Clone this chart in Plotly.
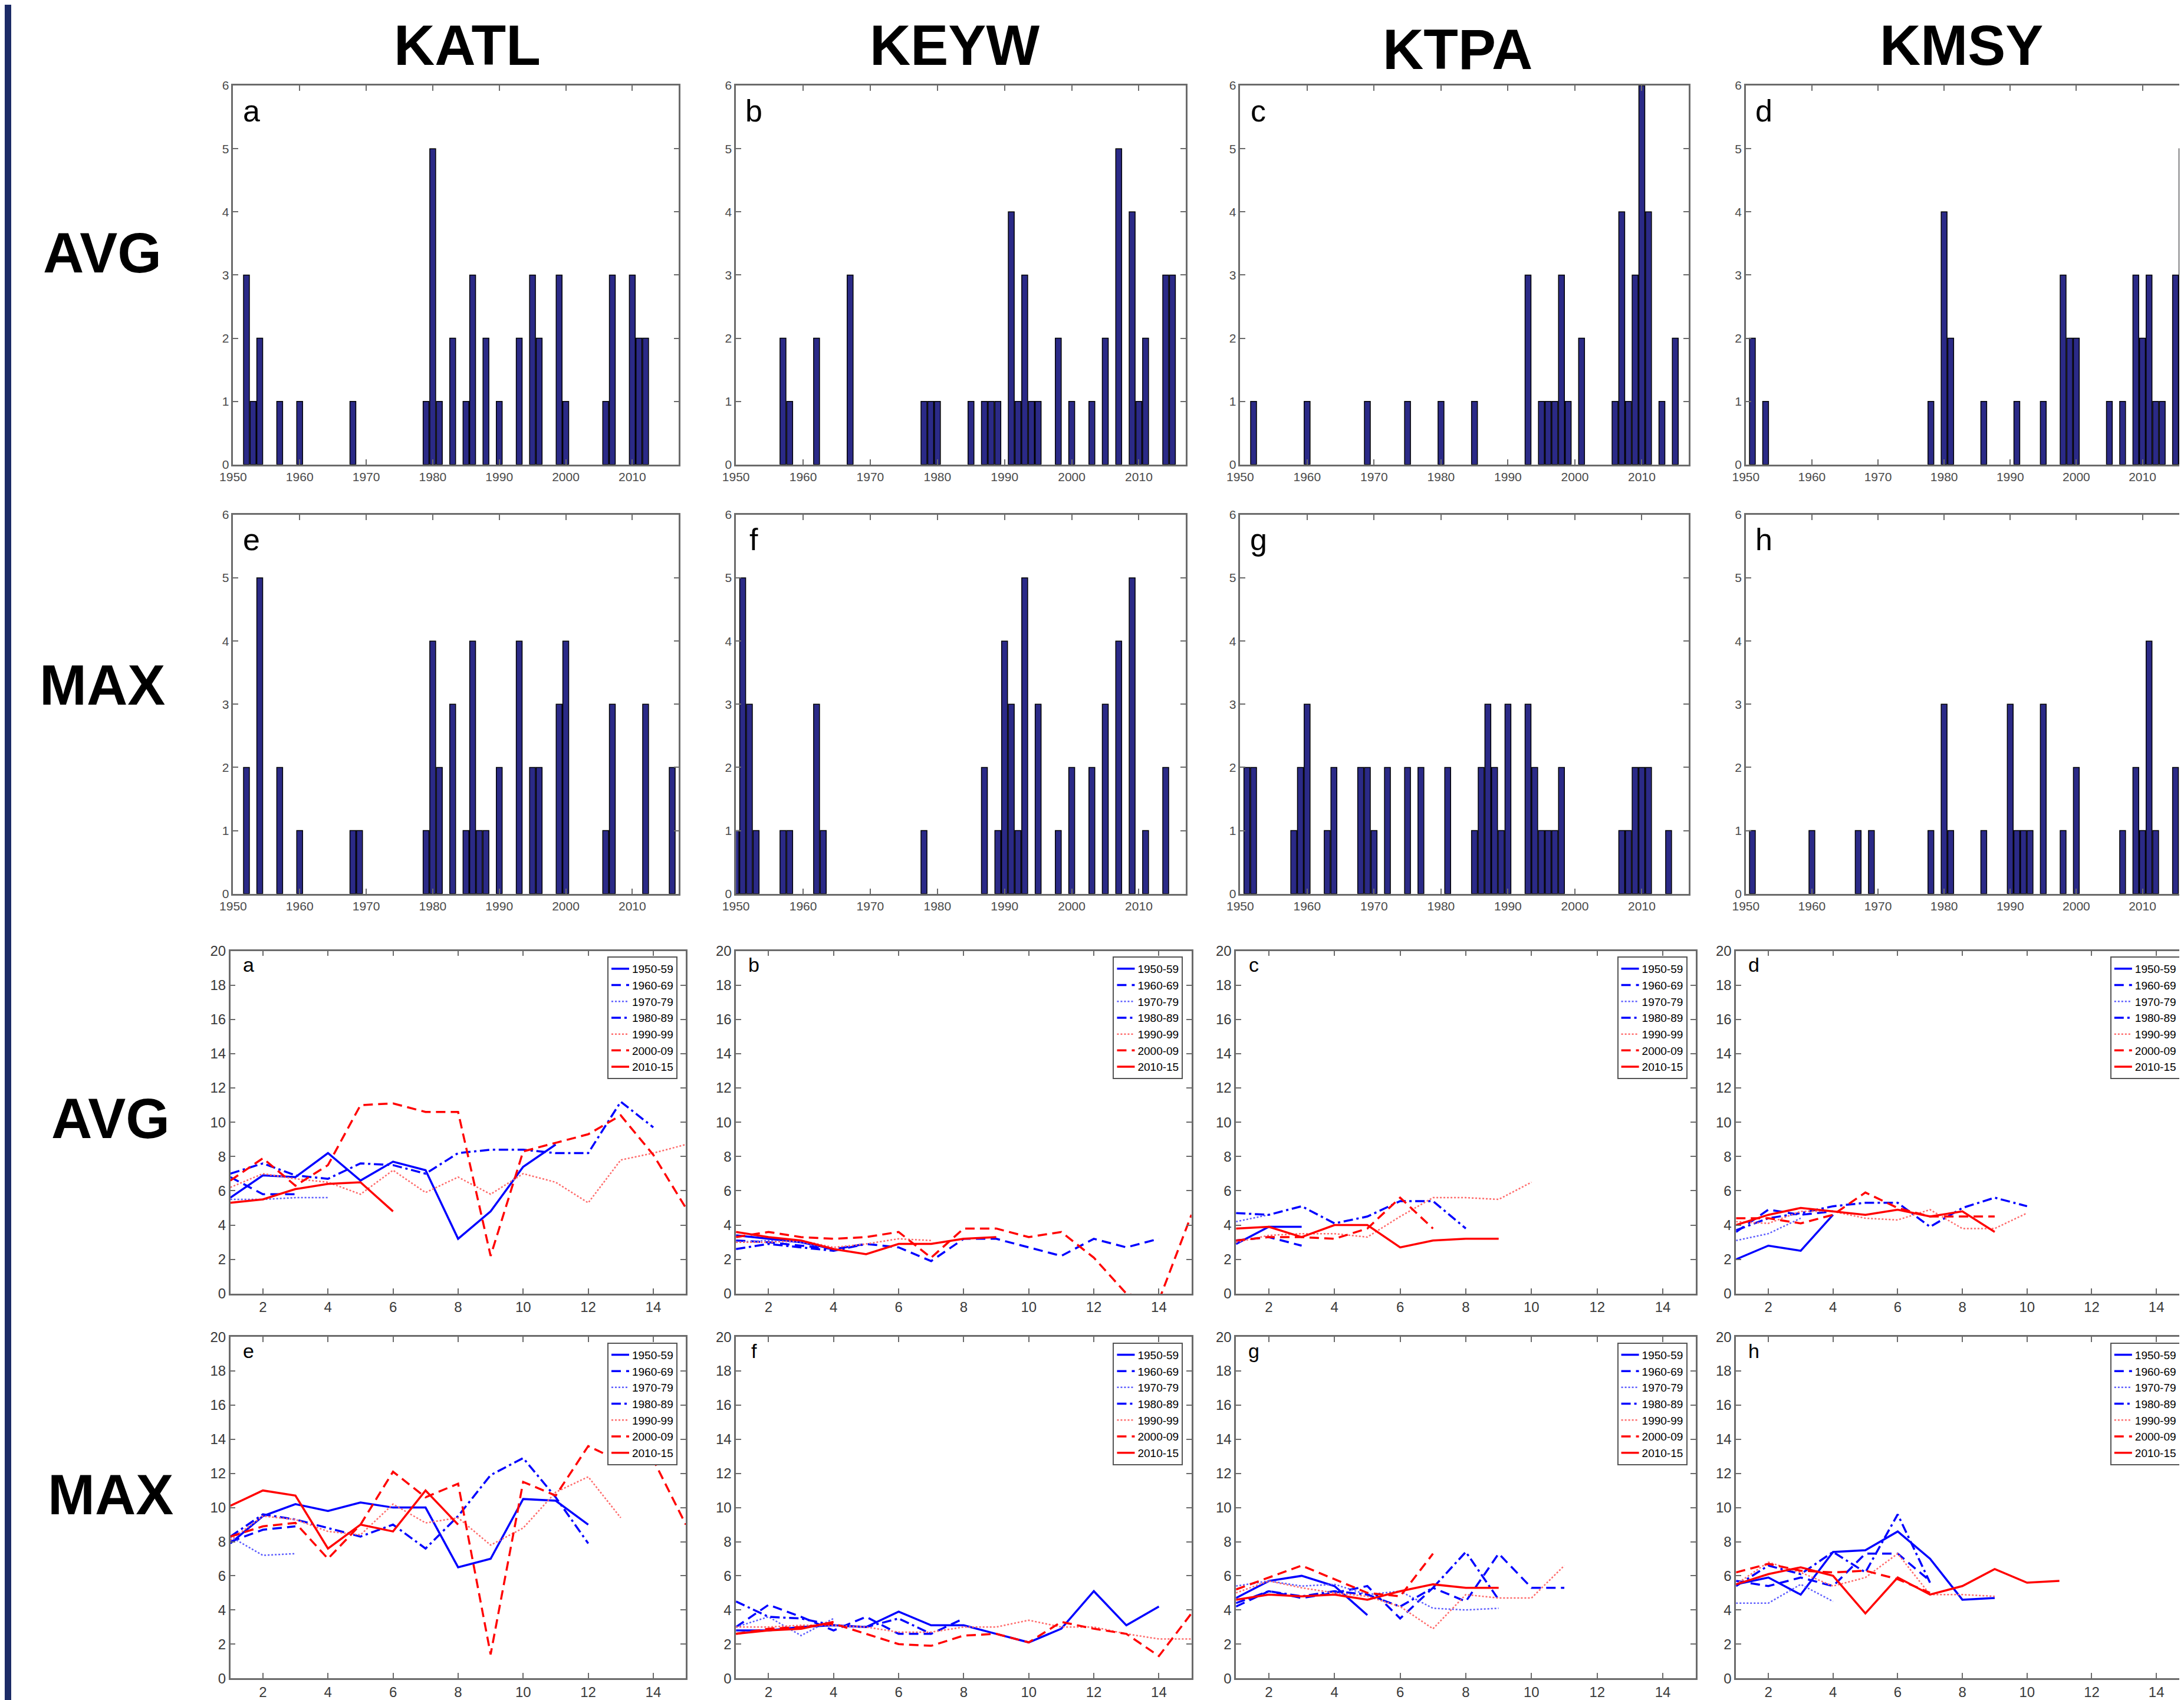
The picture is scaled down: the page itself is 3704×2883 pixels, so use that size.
import plotly.graph_objects as go

W, H = 3704, 2883
SX, SY = 1568.0, 1220.0  # reference layout measured on the shrunk picture

stations = ["KATL", "KEYW", "KTPA", "KMSY"]
decades = ["1950-59", "1960-69", "1970-79", "1980-89", "1990-99", "2000-09", "2010-15"]
bar_letters = ["a", "b", "c", "d", "e", "f", "g", "h"]
line_letters = ["a", "b", "c", "d", "e", "f", "g", "h"]

# ---------------- bar data (count per year) ----------------
katl_avg_years = [1952, 1953, 1954, 1957, 1960, 1968, 1979, 1980, 1981, 1983, 1985, 1986, 1988, 1990,
                  1993, 1995, 1996, 1999, 2000, 2006, 2007, 2010, 2011, 2012]
katl_avg_counts = [3, 1, 2, 1, 1, 1, 1, 5, 1, 2, 1, 3, 2, 1, 2, 3, 2, 3, 1, 1, 3, 3, 2, 2]

keyw_avg_years = [1957, 1958, 1962, 1967, 1978, 1979, 1980, 1985, 1987, 1988, 1989, 1991, 1992, 1993,
                  1994, 1995, 1998, 2000, 2003, 2005, 2007, 2009, 2010, 2011, 2014, 2015]
keyw_avg_counts = [2, 1, 2, 3, 1, 1, 1, 1, 1, 1, 1, 4, 1, 3, 1, 1, 2, 1, 1, 2, 5, 4, 1, 2, 3, 3]

ktpa_avg_years = [1952, 1960, 1969, 1975, 1980, 1985, 1993, 1995, 1996, 1997, 1998, 1999, 2001, 2006,
                  2007, 2008, 2009, 2010, 2011, 2013, 2015]
ktpa_avg_counts = [1, 1, 1, 1, 1, 1, 3, 1, 1, 1, 3, 1, 2, 1, 4, 1, 3, 6, 4, 1, 2]

kmsy_avg_years = [1951, 1953, 1978, 1980, 1981, 1986, 1991, 1995, 1998, 1999, 2000, 2005, 2007, 2009,
                  2010, 2011, 2012, 2013, 2015, 2016]
kmsy_avg_counts = [2, 1, 1, 4, 2, 1, 1, 1, 3, 2, 2, 1, 1, 3, 2, 3, 1, 1, 3, 5]

katl_max_years = [1952, 1954, 1957, 1960, 1968, 1969, 1979, 1980, 1981, 1983, 1985, 1986, 1987, 1988,
                  1990, 1993, 1995, 1996, 1999, 2000, 2006, 2007, 2012, 2016]
katl_max_counts = [2, 5, 2, 1, 1, 1, 1, 4, 2, 3, 1, 4, 1, 1, 2, 4, 2, 2, 3, 4, 1, 3, 3, 2]

keyw_max_years = [1950, 1951, 1952, 1953, 1957, 1958, 1962, 1963, 1978, 1987, 1989, 1990, 1991, 1992,
                  1993, 1995, 1998, 2000, 2003, 2005, 2007, 2009, 2011, 2014]
keyw_max_counts = [1, 5, 3, 1, 1, 1, 3, 1, 1, 2, 1, 4, 3, 1, 5, 3, 1, 2, 2, 3, 4, 5, 1, 2]

ktpa_max_years = [1951, 1952, 1958, 1959, 1960, 1963, 1964, 1968, 1969, 1970, 1972, 1975, 1977, 1981,
                  1985, 1986, 1987, 1988, 1989, 1990, 1993, 1994, 1995, 1996, 1997, 1998, 2007, 2008,
                  2009, 2010, 2011, 2014]
ktpa_max_counts = [2, 2, 1, 2, 3, 1, 2, 2, 2, 1, 2, 2, 2, 2, 1, 2, 3, 2, 1, 3, 3, 2, 1, 1, 1, 2, 1, 1,
                   2, 2, 2, 1]

kmsy_max_years = [1951, 1960, 1967, 1969, 1978, 1980, 1981, 1986, 1990, 1991, 1992, 1993, 1995, 1998,
                  2000, 2007, 2009, 2010, 2011, 2012, 2015]
kmsy_max_counts = [1, 1, 1, 1, 1, 3, 1, 1, 3, 1, 1, 1, 3, 1, 2, 1, 2, 1, 4, 1, 2]

bar_panels = [
    (katl_avg_years, katl_avg_counts), (keyw_avg_years, keyw_avg_counts),
    (ktpa_avg_years, ktpa_avg_counts), (kmsy_avg_years, kmsy_avg_counts),
    (katl_max_years, katl_max_counts), (keyw_max_years, keyw_max_counts),
    (ktpa_max_years, ktpa_max_counts), (kmsy_max_years, kmsy_max_counts),
]

# ---------------- line data (value per event index, one list per decade) ----------------
katl_avg_lines = [
    [5.6, 6.9, 6.8, 8.2, 6.6, 7.7, 7.2, 3.2, 4.8, 7.4, 8.7],
    [6.8, 5.8, 5.8],
    [5.5, 5.5, 5.6, 5.6],
    [7.0, 7.6, 6.9, 6.7, 7.6, 7.5, 7.0, 8.2, 8.4, 8.4, 8.2, 8.2, 11.2, 9.7],
    [6.2, 7.0, 6.7, 6.5, 5.8, 7.2, 5.9, 6.8, 5.8, 7.0, 6.5, 5.3, 7.8, 8.2, 8.7],
    [6.6, 7.9, 6.3, 7.5, 11.0, 11.1, 10.6, 10.6, 2.2, 8.3, 8.8, 9.3, 10.4, 8.1, 5.0],
    [5.3, 5.5, 6.1, 6.4, 6.5, 4.8],
]
keyw_avg_lines = [
    [3.4, 3.2, 3.0, 2.6],
    [3.1, 3.0, 2.8, 2.6, 2.9, 2.7, 1.9, 3.2, 3.2, 2.7, 2.2, 3.2, 2.7, 3.2],
    [3.0, 3.1, 3.0, 2.6],
    [2.6, 2.9, 2.7, 2.5, 2.9],
    [3.0, 3.0, 3.1, 2.7, 2.9, 3.2, 3.1],
    [3.3, 3.6, 3.3, 3.2, 3.3, 3.6, 2.1, 3.8, 3.8, 3.3, 3.6, 2.1, 0.0, -0.4, 4.6],
    [3.6, 3.3, 3.1, 2.6, 2.3, 2.9, 2.9, 3.2, 3.3],
]
ktpa_avg_lines = [
    [2.9, 3.9, 3.9],
    [3.1, 3.3, 2.8],
    [4.2, 4.6],
    [4.7, 4.6, 5.1, 4.1, 4.5, 5.4, 5.4, 3.8],
    [3.0, 3.4, 3.5, 3.5, 3.3, 4.5, 5.6, 5.6, 5.5, 6.5],
    [3.1, 3.3, 3.3, 3.2, 3.8, 5.6, 3.8],
    [3.8, 3.9, 3.3, 4.0, 4.0, 2.7, 3.1, 3.2, 3.2],
]
kmsy_avg_lines = [
    [2.0, 2.8, 2.5, 4.6],
    [3.6, 4.9, 4.6, 4.8],
    [3.1, 3.5, 4.4],
    [3.7, 4.4, 4.7, 5.1, 5.3, 5.3, 3.9, 5.0, 5.6, 5.1],
    [4.2, 4.1, 4.8, 4.8, 4.4, 4.3, 4.9, 3.8, 3.8, 4.7],
    [4.4, 4.4, 4.1, 4.6, 5.9, 5.0, 4.5, 4.5, 4.5],
    [4.0, 4.6, 5.0, 4.8, 4.6, 4.9, 4.5, 4.8, 3.6],
]
katl_max_lines = [
    [7.9, 9.5, 10.2, 9.8, 10.3, 10.0, 10.0, 6.5, 7.0, 10.5, 10.4, 9.0],
    [8.0, 8.7, 8.9],
    [8.3, 7.2, 7.3],
    [8.3, 9.6, 9.3, 8.8, 8.3, 9.0, 7.6, 9.5, 11.9, 12.9, 10.6, 7.9],
    [8.1, 9.5, 9.3, 8.6, 8.4, 10.2, 9.1, 9.4, 7.8, 8.8, 10.9, 11.8, 9.4],
    [8.3, 8.9, 9.1, 7.0, 9.0, 12.1, 10.6, 11.4, 1.4, 11.5, 10.7, 13.6, 12.7, 12.8, 9.0],
    [10.1, 11.0, 10.7, 7.6, 9.0, 8.6, 11.0, 9.0],
]
keyw_max_lines = [
    [2.8, 2.8, 3.0, 3.1, 3.0, 3.9, 3.1, 3.1, 2.6, 2.1, 2.9, 5.1, 3.1, 4.2],
    [3.0, 4.3, 3.6, 2.8, 3.6, 2.6, 2.6, 3.5],
    [3.0, 3.6, 2.5, 3.5],
    [4.5, 3.6, 3.5, 3.1, 3.0, 3.5, 2.6],
    [3.0, 3.0, 3.1, 3.1, 3.0, 2.7, 2.7, 3.0, 3.0, 3.4, 3.0, 3.0, 2.6, 2.3, 2.3],
    [2.6, 2.9, 3.0, 3.2, 2.6, 2.0, 1.9, 2.5, 2.6, 2.1, 3.3, 2.9, 2.6, 1.3, 3.8],
    [2.6, 2.8, 2.9, 3.3],
]
ktpa_max_lines = [
    [4.7, 5.7, 6.0, 5.4, 3.7],
    [4.2, 5.1, 4.7, 5.0, 5.4, 3.5, 5.3, 4.5, 7.3, 5.3, 5.3],
    [5.4, 5.7, 5.4, 5.5, 4.9, 5.1, 4.1, 4.0, 4.1],
    [4.4, 5.1, 4.8, 5.1, 4.9, 4.2, 5.3, 7.4, 4.6],
    [5.0, 5.7, 5.3, 5.0, 4.8, 4.2, 2.9, 4.9, 4.7, 4.7, 6.6],
    [5.2, 5.9, 6.6, 5.8, 5.0, 4.8, 7.3],
    [4.6, 4.9, 4.8, 4.9, 4.6, 5.1, 5.5, 5.3, 5.3],
]
kmsy_max_lines = [
    [5.5, 5.9, 4.9, 7.4, 7.5, 8.6, 7.0, 4.6, 4.7],
    [5.7, 5.4, 5.9, 5.4, 7.3, 7.3, 5.7],
    [4.4, 4.4, 5.5, 4.5],
    [5.4, 6.6, 6.1, 7.4, 6.2, 9.6, 5.6],
    [5.5, 6.8, 6.2, 5.4, 5.9, 7.3, 4.9, 4.9, 4.8],
    [6.2, 6.7, 6.3, 6.2, 6.3, 5.8, 5.0],
    [5.5, 6.1, 6.5, 6.0, 3.8, 5.9, 4.9, 5.4, 6.4, 5.6, 5.7],
]
line_panels = [katl_avg_lines, keyw_avg_lines, ktpa_avg_lines, kmsy_avg_lines,
               katl_max_lines, keyw_max_lines, ktpa_max_lines, kmsy_max_lines]

# ---------------- styles ----------------
line_styles = [
    dict(color="#0000ff", dash="solid", width=3.5),
    dict(color="#0000ff", dash="16px,9px", width=3.5),
    dict(color="#5c5cff", dash="3px,3px", width=2.5),
    dict(color="#0000ff", dash="16px,6px,4px,6px", width=3.5),
    dict(color="#ff6a6a", dash="3px,3px", width=2.5),
    dict(color="#ff0000", dash="16px,9px", width=3.5),
    dict(color="#ff0000", dash="solid", width=3.5),
]

bar_cols = [(164, 484), (525, 848), (887, 1209), (1250, 1568)]
line_cols = [(162, 489), (525, 852), (884, 1214), (1243, 1568)]
rows = [(58, 330), (366, 638), (679, 925), (956, 1201)]

def xd(a, b):
    return [a / SX, min(b / SX, 1.0)]

def yd(a, b):
    return [1 - b / SY, 1 - a / SY]

axis_line = "#6b6b6b"
bar_tick_font = dict(family="Liberation Sans, Arial, sans-serif", size=21, color="#4a4a4a")
line_tick_font = dict(family="Liberation Sans, Arial, sans-serif", size=24, color="#3a3a3a")

fig = go.Figure()
layout = dict(width=W, height=H, margin=dict(l=0, r=0, t=0, b=0, autoexpand=False),
              paper_bgcolor="white", plot_bgcolor="white", showlegend=True,
              font=dict(family="Liberation Sans, Arial, sans-serif"))
annotations = []

def common_axis(tf):
    return dict(showline=True, linecolor=axis_line, linewidth=2.5, mirror="ticks",
                ticks="inside", ticklen=9, tickwidth=2, tickcolor=axis_line,
                showgrid=False, zeroline=False, tickfont=tf, automargin=False)

# bar panels
for i, (yrs, cnts) in enumerate(bar_panels):
    k = i + 1
    r, c = i // 4, i % 4
    xs = "x" if k == 1 else f"x{k}"
    ys = "y" if k == 1 else f"y{k}"
    fig.add_trace(go.Bar(x=yrs, y=cnts, width=0.88, xaxis=xs, yaxis=ys, showlegend=False,
                         marker=dict(color="#2b2a87", line=dict(color="#000000", width=1.5))))
    dx = xd(*bar_cols[c])
    dy = yd(*rows[r])
    xa = common_axis(bar_tick_font)
    xa.update(domain=dx, range=[1950, 2017], tickvals=list(range(1950, 2011, 10)), anchor=ys)
    ya = common_axis(bar_tick_font)
    ya.update(domain=dy, range=[0, 6], tickvals=list(range(0, 7)), anchor=xs)
    layout["xaxis" if k == 1 else f"xaxis{k}"] = xa
    layout["yaxis" if k == 1 else f"yaxis{k}"] = ya
    annotations.append(dict(text=bar_letters[i], xref="paper", yref="paper",
                            x=dx[0] + 13 / SX, y=dy[1] - 18 / SY, showarrow=False,
                            xanchor="center", yanchor="middle",
                            font=dict(size=52, color="black")))

# line panels
for j, series in enumerate(line_panels):
    k = 9 + j
    r, c = 2 + j // 4, j % 4
    xs, ys = f"x{k}", f"y{k}"
    lg = "legend" if j == 0 else f"legend{j + 1}"
    for d, vals in enumerate(series):
        fig.add_trace(go.Scatter(x=list(range(1, len(vals) + 1)), y=vals, mode="lines",
                                 name=decades[d], line=line_styles[d], xaxis=xs, yaxis=ys,
                                 legend=lg, showlegend=True))
    dx = xd(*line_cols[c])
    dy = yd(*rows[r])
    xa = common_axis(line_tick_font)
    xa.update(domain=dx, range=[1, 15], tickvals=list(range(2, 15, 2)), anchor=ys)
    ya = common_axis(line_tick_font)
    ya.update(domain=dy, range=[0, 20], tickvals=list(range(0, 21, 2)), anchor=xs)
    layout[f"xaxis{k}"] = xa
    layout[f"yaxis{k}"] = ya
    layout[lg] = dict(x=dx[1] - 6 / SX, y=dy[1] - 4 / SY, xanchor="right", yanchor="top",
                      bgcolor="white", bordercolor="#555555", borderwidth=2,
                      font=dict(size=19, color="black"), tracegroupgap=0, itemwidth=30,
                      traceorder="normal")
    annotations.append(dict(text=line_letters[j], xref="paper", yref="paper",
                            x=dx[0] + 13 / SX, y=dy[1] - 10 / SY, showarrow=False,
                            xanchor="center", yanchor="middle",
                            font=dict(size=34, color="black")))

# column titles
title_x = [332, 682, 1043, 1405]
title_y = [29, 29, 32, 29]
for s, tx, ty in zip(stations, title_x, title_y):
    annotations.append(dict(text=f"<b>{s}</b>", xref="paper", yref="paper",
                            x=tx / SX, y=1 - ty / SY, showarrow=False,
                            xanchor="center", yanchor="middle",
                            font=dict(size=96, color="black")))

# row labels
row_labels = ["AVG", "MAX", "AVG", "MAX"]
row_lx = [70, 70, 76, 76]
row_ly = [178, 488, 799, 1069]
for t, lx, ly in zip(row_labels, row_lx, row_ly):
    annotations.append(dict(text=f"<b>{t}</b>", xref="paper", yref="paper",
                            x=lx / SX, y=1 - ly / SY, showarrow=False,
                            xanchor="center", yanchor="middle",
                            font=dict(size=96, color="black")))

layout["annotations"] = annotations
layout["shapes"] = [dict(type="rect", xref="paper", yref="paper", x0=0, x1=11 / W, y0=0, y1=1,
                         fillcolor="#1c2b66", line=dict(width=0), layer="above")]
fig.update_layout(**layout)
fig.write_html("out.html")
